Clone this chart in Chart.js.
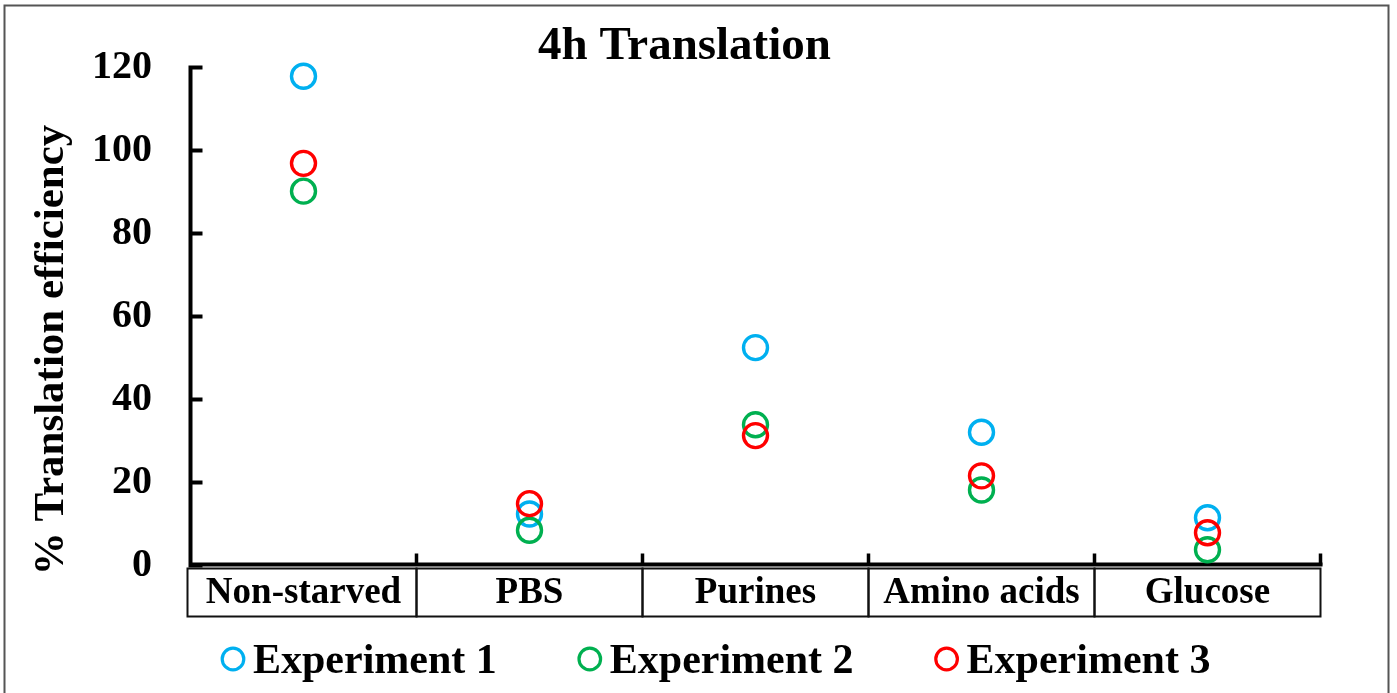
<!DOCTYPE html>
<html><head><meta charset="utf-8">
<style>html,body{margin:0;padding:0;background:#fff;} #wrap{width:1397px;height:693px;}</style>
<script src="https://cdn.jsdelivr.net/npm/chart.js@4.4.1/dist/chart.umd.min.js"></script>
</head><body><div id="wrap"><canvas id="c" width="1397" height="693"></canvas></div>
<script>
const categories = ['Non-starved', 'PBS', 'Purines', 'Amino acids', 'Glucose'];
const seriesNames = ['Experiment 1', 'Experiment 2', 'Experiment 3'];
const experiment1 = [117.9, 12.4, 52.5, 32.1, 11.5];
const experiment2 = [90.2, 8.5, 33.9, 18.2, 3.8];
const experiment3 = [96.9, 14.9, 31.3, 21.6, 7.9];
const yTicks = [0, 20, 40, 60, 80, 100, 120];
const seriesColors = ['#00B0F0', '#00B050', '#FF0000'];
const chartTitle = '4h Translation';
const yTitle = '% Translation efficiency';

const FONT = "'Liberation Serif','Times New Roman',serif";
const seriesValues = [experiment1, experiment2, experiment3];

const decor = {
  id: 'decor',
  beforeDatasetsDraw(chart) {
    const ctx = chart.ctx, ca = chart.chartArea, xs = chart.scales.x, ys = chart.scales.y;
    const y0 = ys.getPixelForValue(0);
    const yTop = ys.getPixelForValue(yTicks[yTicks.length - 1]);
    ctx.save();
    // outer border
    ctx.strokeStyle = '#555'; ctx.lineWidth = 2;
    ctx.strokeRect(4.5, 5.5, 1384, 720);
    // axes
    ctx.strokeStyle = '#000'; ctx.lineWidth = 4; ctx.lineCap = 'butt';
    ctx.beginPath();
    ctx.moveTo(ca.left, yTop - 2); ctx.lineTo(ca.left, y0 + 1);
    yTicks.forEach(v => { const p = ys.getPixelForValue(v); ctx.moveTo(ca.left - 2, p); ctx.lineTo(ca.left + 12, p); });
    ctx.moveTo(ca.left - 2, y0 - 1); ctx.lineTo(ca.right + 2, y0 - 1);
    ctx.stroke();
    // category boundaries
    const bounds = [ca.left];
    for (let i = 1; i < categories.length; i++) bounds.push((xs.getPixelForValue(i - 1) + xs.getPixelForValue(i)) / 2);
    bounds.push(ca.right);
    ctx.lineWidth = 3.5;
    ctx.beginPath();
    for (let i = 1; i < bounds.length; i++) { ctx.moveTo(bounds[i], y0); ctx.lineTo(bounds[i], y0 - 12); }
    ctx.stroke();
    // label boxes
    ctx.lineWidth = 2; ctx.strokeStyle = '#111';
    for (let i = 0; i < categories.length; i++) {
      const l = i === 0 ? bounds[0] - 3 : bounds[i];
      ctx.strokeRect(l, 568.5, bounds[i + 1] - l, 48);
    }
    // title
    ctx.fillStyle = '#000';
    ctx.font = 'bold 47px ' + FONT; ctx.textAlign = 'center'; ctx.textBaseline = 'alphabetic';
    ctx.fillText(chartTitle, 684.5, 58.7);
    // y title
    ctx.save();
    ctx.translate(63, 350); ctx.rotate(-Math.PI / 2);
    ctx.font = 'bold 43px ' + FONT;
    ctx.fillText(yTitle, 0, 0);
    ctx.restore();
    // legend
    ctx.font = 'bold 42px ' + FONT; ctx.textAlign = 'left';
    let x = 221;
    seriesNames.forEach((name, i) => {
      ctx.beginPath(); ctx.lineWidth = 3.2; ctx.strokeStyle = seriesColors[i];
      ctx.arc(x + 12, 659, 10.8, 0, Math.PI * 2); ctx.stroke();
      ctx.fillStyle = '#000';
      ctx.fillText(name, x + 32, 673);
      x = x + 32 + ctx.measureText(name).width + 81;
    });
    ctx.restore();
  }
};

const datasets = seriesNames.map((name, i) => ({
  label: name,
  data: seriesValues[i],
  showLine: false,
  clip: false,
  borderColor: seriesColors[i],
  backgroundColor: 'rgba(0,0,0,0)',
  pointBorderColor: seriesColors[i],
  pointBackgroundColor: 'rgba(0,0,0,0)',
  pointRadius: 12,
  pointBorderWidth: 3.4,
  order: seriesNames.length - 1 - i
}));

new Chart(document.getElementById('c'), {
  type: 'line',
  data: { labels: categories, datasets },
  options: {
    responsive: false,
    animation: false,
    events: [],
    layout: { padding: { left: 0, right: 1397 - 1320.5, top: 67.5, bottom: 0 } },
    plugins: { legend: { display: false }, title: { display: false }, tooltip: { enabled: false } },
    scales: {
      x: {
        type: 'category', offset: true,
        grid: { display: false, drawTicks: false }, border: { display: false },
        ticks: { color: '#000', font: { family: FONT, size: 37, weight: 'bold' }, padding: 6, maxRotation: 0, autoSkip: false },
        afterFit(s) { s.height = 693 - 565.5; }
      },
      y: {
        min: 0, max: 120,
        afterBuildTicks(s) { s.ticks = yTicks.map(v => ({ value: v })); },
        grid: { display: false, drawTicks: false }, border: { display: false },
        ticks: { color: '#000', font: { family: FONT, size: 40, weight: 'bold' }, padding: 38.5 },
        afterFit(s) { s.width = 190.5; }
      }
    }
  },
  plugins: [decor]
});
</script>
</body></html>
